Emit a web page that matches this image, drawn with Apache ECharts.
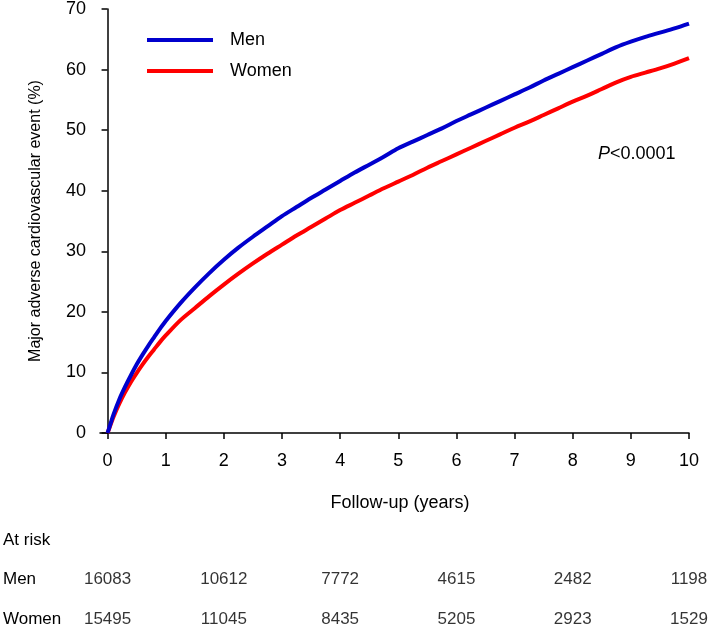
<!DOCTYPE html>
<html>
<head>
<meta charset="utf-8">
<script src="https://cdn.jsdelivr.net/npm/echarts@6/dist/echarts.min.js"></script>
<style>
html,body{margin:0;padding:0;background:#fff;}
#c{width:709px;height:627px;}
</style>
</head>
<body>
<div id="c"></div>
<script>
// Follow-up time (years)
var years = [0,0.05,0.1,0.2,0.3,0.4,0.5,0.6,0.7,0.8,0.9,1.0,1.25,1.5,1.75,2.0,2.25,2.5,2.75,3.0,3.25,3.5,3.75,4.0,4.25,4.5,4.75,5.0,5.25,5.5,5.75,6.0,6.25,6.5,6.75,7.0,7.25,7.5,7.75,8.0,8.25,8.5,8.75,9.0,9.25,9.5,9.75,10];
// Cumulative incidence (%)
var men   = [0,1.5,3.0,5.5,7.6,9.5,11.3,12.9,14.4,15.8,17.2,18.5,21.4,24.0,26.4,28.6,30.6,32.4,34.1,35.8,37.3,38.8,40.2,41.6,43.0,44.3,45.6,47.0,48.1,49.2,50.3,51.5,52.6,53.7,54.8,55.9,57.0,58.2,59.3,60.4,61.5,62.6,63.7,64.6,65.4,66.1,66.8,67.6];
var women = [0,1.3,2.6,4.8,6.7,8.4,9.9,11.3,12.6,13.8,15.0,16.1,18.6,20.6,22.6,24.5,26.3,28.0,29.6,31.1,32.6,34.0,35.4,36.8,38.0,39.2,40.4,41.5,42.6,43.8,44.9,46.0,47.1,48.2,49.3,50.4,51.4,52.5,53.6,54.7,55.7,56.8,57.9,58.8,59.5,60.2,61.0,61.9];
// Number at risk
var riskYears  = [0,2,4,6,8,10];
var riskMen    = [16083,10612,7772,4615,2482,1198];
var riskWomen  = [15495,11045,8435,5205,2923,1529];
var xTicks = [0,1,2,3,4,5,6,7,8,9,10];

function pairs(xs, ys){ return xs.map(function(x,i){ return [x, ys[i]]; }); }

var FONT = 'Liberation Sans, Arial, sans-serif';
var chart = echarts.init(document.getElementById('c'), null, {renderer:'canvas'});
var option = {
  animation: false,
  textStyle: {fontFamily: FONT, color:'#000'},
  grid: [
    {left:100, width:589, top:7, height:426, containLabel:false},
    {left:100, width:589, top:579, height:40.5, containLabel:false}
  ],
  legend: {
    data: [{name:'Men', icon:'rect'}, {name:'Women', icon:'rect'}],
    orient: 'vertical',
    left: 142, top: 25,
    itemWidth: 66, itemHeight: 4,
    itemGap: 11,
    textStyle: {fontSize:18, color:'#000', fontFamily:FONT, padding:[0,0,0,12], lineHeight:20}
  },
  xAxis: [
    {
      gridIndex:0, type:'value', min:-0.13, max:10,
      axisLine:{show:true, lineStyle:{color:'#000', width:1.5}},
      axisTick:{show:true, length:6, inside:false, customValues:xTicks, lineStyle:{color:'#000', width:1.5}},
      axisLabel:{show:true, customValues:xTicks, fontSize:18, color:'#000', margin:19, fontFamily:FONT},
      splitLine:{show:false},
      name:'Follow-up (years)', nameLocation:'middle', nameGap:61,
      nameTextStyle:{fontSize:18, color:'#000', fontFamily:FONT, padding:[0,0,0,11]}
    },
    {
      gridIndex:1, type:'value', min:-0.13, max:10, show:false
    }
  ],
  yAxis: [
    {
      gridIndex:0, type:'value', min:0, max:70, interval:10,
      axisLine:{show:true, lineStyle:{color:'#000', width:1.5}},
      axisTick:{show:true, length:6, lineStyle:{color:'#000', width:1.5}},
      axisLabel:{fontSize:18, color:'#000', margin:14, fontFamily:FONT},
      splitLine:{show:false},
      name:'Major adverse cardiovascular event (%)', nameLocation:'middle', nameGap:56, nameRotate:90,
      nameTextStyle:{fontSize:16, color:'#000', fontFamily:FONT}
    },
    {
      gridIndex:1, type:'value', min:0, max:1, show:false
    }
  ],
  series: [
    {
      name:'Women', type:'line', xAxisIndex:0, yAxisIndex:0,
      data: pairs(years, women), showSymbol:false, smooth:0.3,
      lineStyle:{color:'#FF0000', width:4}, itemStyle:{color:'#FF0000'}, z:2
    },
    {
      name:'Men', type:'line', xAxisIndex:0, yAxisIndex:0,
      data: pairs(years, men), showSymbol:false, smooth:0.3,
      lineStyle:{color:'#0000CD', width:4}, itemStyle:{color:'#0000CD'}, z:3
    },
    {
      name:'riskMen', type:'scatter', xAxisIndex:1, yAxisIndex:1, symbolSize:0, silent:true,
      data: riskYears.map(function(x,i){ return [x, 1, riskMen[i]]; }),
      label:{show:true, position:'inside', formatter:function(p){return String(p.value[2]);}, fontSize:17, color:'#000', fontFamily:FONT}
    },
    {
      name:'riskWomen', type:'scatter', xAxisIndex:1, yAxisIndex:1, symbolSize:0, silent:true,
      data: riskYears.map(function(x,i){ return [x, 0, riskWomen[i]]; }),
      label:{show:true, position:'inside', formatter:function(p){return String(p.value[2]);}, fontSize:17, color:'#000', fontFamily:FONT}
    }
  ],
  graphic: [
    {type:'text', left:598, top:145, style:{rich:{i:{fontStyle:'italic', fontSize:18, fontFamily:FONT, fill:'#000'}, n:{fontSize:18, fontFamily:FONT, fill:'#000'}}, text:'{i|P}{n|<0.0001}'}},
    {type:'text', left:3, top:532, style:{text:'At risk', fontSize:17, fontFamily:FONT, fill:'#000'}},
    {type:'text', left:3, top:571, style:{text:'Men', fontSize:17, fontFamily:FONT, fill:'#000'}},
    {type:'text', left:3, top:611, style:{text:'Women', fontSize:17, fontFamily:FONT, fill:'#000'}}
  ]
};
chart.setOption(option);
</script>
</body>
</html>
